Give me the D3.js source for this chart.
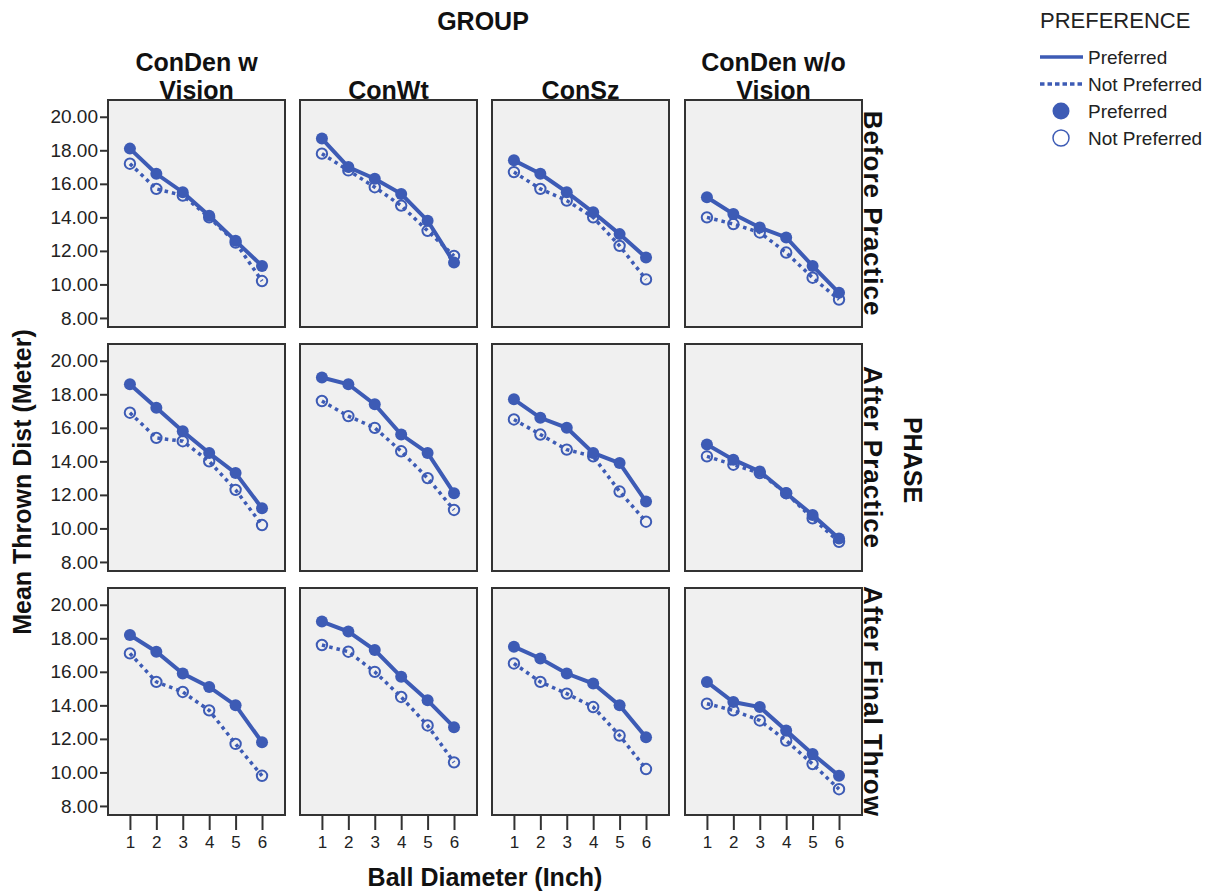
<!DOCTYPE html>
<html>
<head>
<meta charset="utf-8">
<script src="https://cdn.jsdelivr.net/npm/d3@7"></script>
<style>
  body { margin: 0; background: #fff; }
  text { font-family: "Liberation Sans", Arial, sans-serif; }
  .tick text { fill: #222; }
  .tick line { stroke: #333; }
  .hdr { font-weight: bold; fill: #111; }
</style>
</head>
<body>
<svg id="chart" width="1218" height="894"></svg>
<script>
const groups = [["ConDen w", "Vision"], ["ConWt"], ["ConSz"], ["ConDen w/o", "Vision"]];
const phases = ["Before Practice", "After Practice", "After Final Throw"];
const diameters = [1, 2, 3, 4, 5, 6];
const yTicks = [8, 10, 12, 14, 16, 18, 20];

// preferred[phase][group], notPreferred[phase][group]
const preferred = [
  [[18.1, 16.6, 15.5, 14.1, 12.6, 11.1], [18.7, 17.0, 16.3, 15.4, 13.8, 11.3],
   [17.4, 16.6, 15.5, 14.3, 13.0, 11.6], [15.2, 14.2, 13.4, 12.8, 11.1, 9.5]],
  [[18.6, 17.2, 15.8, 14.5, 13.3, 11.2], [19.0, 18.6, 17.4, 15.6, 14.5, 12.1],
   [17.7, 16.6, 16.0, 14.5, 13.9, 11.6], [15.0, 14.1, 13.4, 12.1, 10.8, 9.4]],
  [[18.2, 17.2, 15.9, 15.1, 14.0, 11.8], [19.0, 18.4, 17.3, 15.7, 14.3, 12.7],
   [17.5, 16.8, 15.9, 15.3, 14.0, 12.1], [15.4, 14.2, 13.9, 12.5, 11.1, 9.8]]
];
const notPreferred = [
  [[17.2, 15.7, 15.3, 14.0, 12.5, 10.2], [17.8, 16.8, 15.8, 14.7, 13.2, 11.7],
   [16.7, 15.7, 15.0, 14.0, 12.3, 10.3], [14.0, 13.6, 13.1, 11.9, 10.4, 9.1]],
  [[16.9, 15.4, 15.2, 14.0, 12.3, 10.2], [17.6, 16.7, 16.0, 14.6, 13.0, 11.1],
   [16.5, 15.6, 14.7, 14.3, 12.2, 10.4], [14.3, 13.8, 13.3, 12.1, 10.6, 9.2]],
  [[17.1, 15.4, 14.8, 13.7, 11.7, 9.8], [17.6, 17.2, 16.0, 14.5, 12.8, 10.6],
   [16.5, 15.4, 14.7, 13.9, 12.2, 10.2], [14.1, 13.7, 13.1, 11.9, 10.5, 9.0]]
];

const BLUE = "#3d5bb5";
const colX = [108, 300, 492, 685];
const rowY = [100, 344, 588];
const PW = 177, PH = 227;

const svg = d3.select("#chart");

const x = d3.scaleLinear().domain([0.17, 6.87]).range([0, PW]);
const y = d3.scaleLinear().domain([7.46, 21.0]).range([PH, 0]);
const line = d3.line().x((d, i) => x(diameters[i])).y(d => y(d));

phases.forEach((phase, r) => {
  groups.forEach((grp, c) => {
    const g = svg.append("g").attr("transform", `translate(${colX[c]},${rowY[r]})`);
    g.append("rect")
      .attr("width", PW).attr("height", PH)
      .attr("fill", "#f0f0f0").attr("stroke", "#333").attr("stroke-width", 2);

    if (c === 0) {
      const ax = g.append("g").call(d3.axisLeft(y).tickValues(yTicks).tickFormat(d3.format(".2f")).tickSize(8));
      ax.select(".domain").remove();
      ax.selectAll(".tick line").attr("stroke-width", 2);
      ax.selectAll(".tick text").attr("x", -10).style("font-size", "19px")
        .attr("font-family", "Liberation Sans, Arial, sans-serif");
    }
    if (r === phases.length - 1) {
      const ax = g.append("g").attr("transform", `translate(0,${PH})`)
        .call(d3.axisBottom(x).tickValues(diameters).tickFormat(d3.format("d")).tickSize(15));
      ax.select(".domain").remove();
      ax.selectAll(".tick line").attr("stroke-width", 2);
      ax.selectAll(".tick text").attr("y", 21).style("font-size", "17px")
        .attr("font-family", "Liberation Sans, Arial, sans-serif");
    }

    g.append("path").datum(notPreferred[r][c])
      .attr("d", line).attr("fill", "none").attr("stroke", BLUE)
      .attr("stroke-width", 3.5).attr("stroke-dasharray", "3.5,4");
    g.append("path").datum(preferred[r][c])
      .attr("d", line).attr("fill", "none").attr("stroke", BLUE)
      .attr("stroke-width", 4);

    g.selectAll("circle.np").data(notPreferred[r][c]).enter().append("circle")
      .attr("class", "np")
      .attr("cx", (d, i) => x(diameters[i])).attr("cy", d => y(d)).attr("r", 5.2)
      .attr("fill", "none").attr("stroke", BLUE).attr("stroke-width", 2);
    g.selectAll("circle.p").data(preferred[r][c]).enter().append("circle")
      .attr("class", "p")
      .attr("cx", (d, i) => x(diameters[i])).attr("cy", d => y(d)).attr("r", 6)
      .attr("fill", BLUE);
  });

  svg.append("text").attr("class", "hdr")
    .attr("transform", `translate(864,${rowY[r] + PH / 2}) rotate(90)`)
    .attr("text-anchor", "middle")
    .style("font-size", "26px").style("letter-spacing", "1px")
    .text(phase);
});

groups.forEach((lines, c) => {
  const cx = colX[c] + PW / 2;
  lines.forEach((t, k) => {
    svg.append("text").attr("class", "hdr")
      .attr("x", cx).attr("y", 99 - (lines.length - 1 - k) * 28)
      .attr("text-anchor", "middle")
      .style("font-size", "25px")
      .text(t);
  });
});

svg.append("text").attr("class", "hdr").attr("x", 483).attr("y", 30).attr("text-anchor", "middle")
  .style("font-size", "25px").text("GROUP");

svg.append("text").attr("class", "hdr").attr("transform", "translate(904,460) rotate(90)").attr("text-anchor", "middle")
  .style("font-size", "25px").text("PHASE");

svg.append("text").attr("class", "hdr").attr("transform", "translate(31,482) rotate(-90)").attr("text-anchor", "middle")
  .style("font-size", "25px").text("Mean Thrown Dist (Meter)");

svg.append("text").attr("class", "hdr").attr("x", 485).attr("y", 886).attr("text-anchor", "middle")
  .style("font-size", "25px").text("Ball Diameter (Inch)");

// legend
const leg = svg.append("g").attr("transform", "translate(1040,0)");
leg.append("text").attr("x", 0).attr("y", 28).style("font-size", "22px").attr("fill", "#222").text("PREFERENCE");
const items = [
  { label: "Preferred", kind: "line" },
  { label: "Not Preferred", kind: "dash" },
  { label: "Preferred", kind: "dot" },
  { label: "Not Preferred", kind: "ring" }
];
items.forEach((it, i) => {
  const yy = 57 + i * 27;
  if (it.kind === "line" || it.kind === "dash") {
    leg.append("line").attr("x1", 0).attr("x2", 43).attr("y1", yy).attr("y2", yy)
      .attr("stroke", BLUE).attr("stroke-width", 3.5)
      .attr("stroke-dasharray", it.kind === "dash" ? "4.5,3" : null);
  } else {
    leg.append("circle").attr("cx", 21).attr("cy", yy).attr("r", it.kind === "dot" ? 8.5 : 8)
      .attr("fill", it.kind === "dot" ? BLUE : "none")
      .attr("stroke", BLUE).attr("stroke-width", it.kind === "dot" ? 0 : 1.5);
  }
  leg.append("text").attr("x", 48).attr("y", yy + 7).style("font-size", "19px").attr("fill", "#222").text(it.label);
});
</script>
</body>
</html>
